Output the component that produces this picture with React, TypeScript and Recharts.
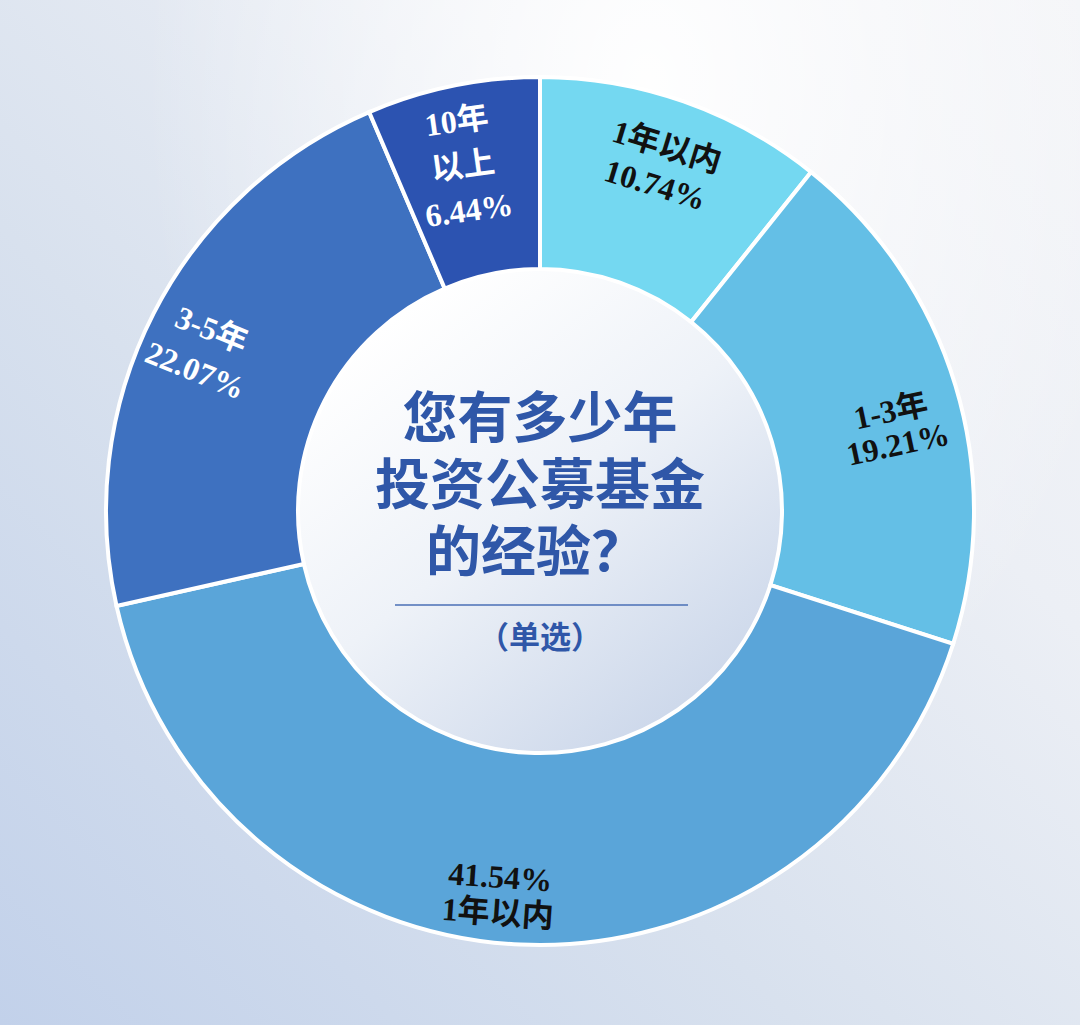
import React from "react";
import { PieChart, Pie, Cell } from "recharts";

const CATEGORIES = ["1年以内", "1-3年", "1年以内", "3-5年", "10年以上"];
const VALUES = [10.74, 19.21, 41.54, 22.07, 6.44];
const LABEL_LINES = [
  ["1年以内", "10.74%"],
  ["1-3年", "19.21%"],
  ["41.54%", "1年以内"],
  ["3-5年", "22.07%"],
  ["10年", "以上", "6.44%"],
];
const TITLE_LINES = ["您有多少年", "投资公募基金", "的经验？"];
const SUBTITLE = "（单选）";

const COLORS = ["#74d8f1", "#64bfe6", "#5aa5d9", "#3e71c0", "#2c53b1"];
const LABEL_COLORS = ["#111111", "#111111", "#111111", "#ffffff", "#ffffff"];
const LABEL_RADIUS = [366, 364, 386, 373, 354];
const LABEL_ANGLE_SHIFT = [0, -3.5, -3.5, 1.5, 1];
const LABEL_ROTATE = [17, -12, 4, 22, -8];
const LABEL_GAP = [40, 34, 36, 44, 45];

const data = CATEGORIES.map((name, i) => ({ name, value: VALUES[i] }));

const W = 1080;
const H = 1025;
const CX = 540;
const CY = 511;
const R_OUT = 434;
const R_IN = 242;
const RAD = Math.PI / 180;
const FONT = "'Liberation Serif', 'DejaVu Serif', 'Noto Sans CJK SC', serif";

const renderLabel = (props: any) => {
  const { cx, cy, midAngle, index } = props;
  const ang = (midAngle + LABEL_ANGLE_SHIFT[index]) * RAD;
  const r = LABEL_RADIUS[index];
  const x = cx + r * Math.cos(-ang);
  const y = cy + r * Math.sin(-ang);
  const lines = LABEL_LINES[index];
  const gap = LABEL_GAP[index];
  const start = -((lines.length - 1) * gap) / 2;
  return (
    <g transform={`translate(${x},${y}) rotate(${LABEL_ROTATE[index]})`}>
      {lines.map((ln, k) => (
        <text
          key={k}
          x={0}
          y={start + k * gap}
          textAnchor="middle"
          dominantBaseline="central"
          fill={LABEL_COLORS[index]}
          fontFamily={FONT}
          fontWeight={700}
          fontSize={32}
        >
          {ln}
        </text>
      ))}
    </g>
  );
};

export default function App() {
  return (
    <div
      style={{
        position: "absolute",
        left: 0,
        top: 0,
        width: W,
        height: H,
        overflow: "hidden",
        background:
          "radial-gradient(ellipse at 60% 8%, rgba(255,255,255,0.95) 0%, rgba(255,255,255,0) 55%), linear-gradient(45deg, #c2d1ea 0%, #d8e1ee 38%, #eceff5 70%, #f4f5f8 100%)",
      }}
    >
      <svg width={0} height={0} style={{ position: "absolute" }}>
        <defs>
          <linearGradient id="centerGrad" x1="0.2" y1="0.1" x2="0.85" y2="0.95">
            <stop offset="0%" stopColor="#ffffff" />
            <stop offset="45%" stopColor="#eef2f8" />
            <stop offset="100%" stopColor="#c9d5e9" />
          </linearGradient>
        </defs>
      </svg>
      <div style={{ position: "absolute", left: 0, top: 0 }}>
        <PieChart width={W} height={H} margin={{ top: 0, right: 0, bottom: 0, left: 0 }}>
          <Pie
            data={[{ name: "center", value: 1 }]}
            dataKey="value"
            cx={CX}
            cy={CY}
            innerRadius={0}
            outerRadius={R_IN}
            startAngle={90}
            endAngle={-270}
            stroke="none"
            isAnimationActive={false}
            label={false}
            labelLine={false}
          >
            <Cell fill="url(#centerGrad)" stroke="none" />
          </Pie>
          <Pie
            data={data}
            dataKey="value"
            nameKey="name"
            cx={CX}
            cy={CY}
            innerRadius={R_IN}
            outerRadius={R_OUT}
            startAngle={90}
            endAngle={-270}
            stroke="#ffffff"
            strokeWidth={4}
            label={renderLabel}
            labelLine={false}
            isAnimationActive={false}
          >
            {data.map((d, i) => (
              <Cell key={i} fill={COLORS[i]} />
            ))}
          </Pie>
        </PieChart>
      </div>
      <svg
        width={W}
        height={H}
        style={{ position: "absolute", left: 0, top: 0, pointerEvents: "none" }}
      >
        {TITLE_LINES.map((t, i) => (
          <text
            key={i}
            x={i === 2 ? 536 : CX}
            y={418 + i * 67}
            textAnchor="middle"
            dominantBaseline="central"
            fill="#2f57a8"
            fontFamily={FONT}
            fontWeight={700}
            fontSize={55}
          >
            {t}
          </text>
        ))}
        <line x1={395} y1={605} x2={688} y2={605} stroke="#4a6fb6" strokeWidth={1.5} />
        <text
          x={CX}
          y={637}
          textAnchor="middle"
          dominantBaseline="central"
          fill="#2f57a8"
          fontFamily={FONT}
          fontWeight={700}
          fontSize={31}
        >
          {SUBTITLE}
        </text>
      </svg>
    </div>
  );
}
